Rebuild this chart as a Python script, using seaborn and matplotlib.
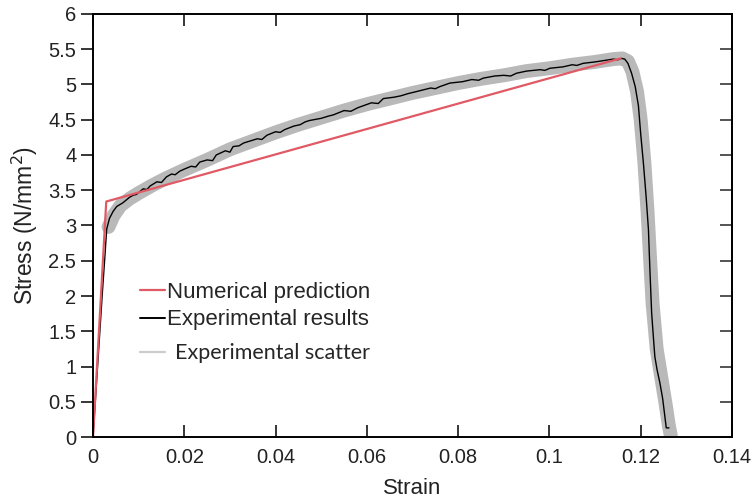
import matplotlib
matplotlib.use("Agg")
import matplotlib.pyplot as plt
from matplotlib.lines import Line2D
import seaborn as sns
import pandas as pd

# Numerical prediction: bilinear model (elastic branch + hardening branch)
num_strain = [0.0, 0.0029, 0.1156]
num_stress = [0.0, 3.34, 5.37]

# Experimental stress-strain record
exp_strain = [0.0, 0.0010, 0.0020, 0.0026, 0.0030, 0.0036, 0.0044, 0.0052, 0.0065,
              0.0080, 0.0088, 0.0095, 0.0110, 0.0118, 0.0125, 0.0140, 0.0150, 0.0161,
              0.0172, 0.0180, 0.0190, 0.0200, 0.0215, 0.0225, 0.0234, 0.0250, 0.0262,
              0.0270, 0.0290, 0.0300, 0.0307, 0.0320, 0.0330, 0.0340, 0.0360, 0.0370,
              0.0381, 0.0400, 0.0410, 0.0420, 0.0440, 0.0454, 0.0465, 0.0475, 0.0500,
              0.0515, 0.0527, 0.0550, 0.0565, 0.0580, 0.0610, 0.0625, 0.0636, 0.0660,
              0.0675, 0.0690, 0.0709, 0.0740, 0.0750, 0.0760, 0.0782, 0.0810, 0.0830,
              0.0845, 0.0855, 0.0880, 0.0900, 0.0915, 0.0928, 0.0950, 0.0980, 0.0990,
              0.1001, 0.1030, 0.1050, 0.1060, 0.1074, 0.1100, 0.1120, 0.1140, 0.1150,
              0.1158, 0.1165, 0.1172, 0.1180, 0.1188, 0.1195, 0.1200, 0.1206, 0.1212,
              0.1217, 0.1220, 0.1224, 0.1228, 0.1231, 0.1236, 0.1242, 0.1248, 0.1253,
              0.1256, 0.1262]
exp_stress = [0.0, 1.00, 2.00, 2.56, 2.95, 3.10, 3.20, 3.27, 3.32,
              3.40, 3.43, 3.44, 3.52, 3.51, 3.56, 3.62, 3.61, 3.69,
              3.73, 3.72, 3.77, 3.80, 3.84, 3.83, 3.90, 3.93, 3.92,
              4.00, 4.06, 4.04, 4.12, 4.13, 4.17, 4.19, 4.23, 4.22,
              4.28, 4.33, 4.32, 4.36, 4.41, 4.43, 4.47, 4.49, 4.52,
              4.55, 4.57, 4.63, 4.62, 4.67, 4.74, 4.73, 4.80, 4.82,
              4.84, 4.87, 4.90, 4.95, 4.94, 4.97, 5.02, 5.04, 5.07,
              5.06, 5.09, 5.12, 5.13, 5.12, 5.16, 5.19, 5.21, 5.20,
              5.23, 5.25, 5.28, 5.27, 5.30, 5.32, 5.34, 5.36, 5.35,
              5.37, 5.36, 5.30, 5.16, 4.97, 4.70, 4.30, 3.88, 3.40,
              2.94, 2.40, 1.76, 1.40, 1.14, 0.95, 0.77, 0.55, 0.29,
              0.13, 0.13]

# Envelope of the repeated tests
sc_strain = [0.0034, 0.0045, 0.0060, 0.0080, 0.0100, 0.0130, 0.0160, 0.0200, 0.0250,
             0.0300, 0.0350, 0.0400, 0.0450, 0.0500, 0.0550, 0.0600, 0.0650, 0.0700,
             0.0750, 0.0800, 0.0850, 0.0900, 0.0950, 0.1000, 0.1050, 0.1100, 0.1140,
             0.1160, 0.1172, 0.1182, 0.1192, 0.1200, 0.1208, 0.1215, 0.1220, 0.1226,
             0.1235, 0.1245, 0.1255, 0.1262, 0.1266]
sc_stress = [2.98, 3.14, 3.28, 3.38, 3.46, 3.57, 3.67, 3.79, 3.93,
             4.08, 4.20, 4.32, 4.43, 4.53, 4.63, 4.72, 4.80, 4.88,
             4.95, 5.02, 5.08, 5.13, 5.19, 5.23, 5.28, 5.32, 5.36,
             5.37, 5.33, 5.18, 4.90, 4.50, 3.90, 3.20, 2.60, 1.90,
             1.25, 0.85, 0.45, 0.15, 0.02]

x_ticks = [0, 0.02, 0.04, 0.06, 0.08, 0.1, 0.12, 0.14]
x_tick_labels = ["0", "0.02", "0.04", "0.06", "0.08", "0.1", "0.12", "0.14"]
y_ticks = [0, 0.5, 1, 1.5, 2, 2.5, 3, 3.5, 4, 4.5, 5, 5.5, 6]
y_tick_labels = ["0", "0.5", "1", "1.5", "2", "2.5", "3", "3.5", "4", "4.5", "5", "5.5", "6"]

legend_labels = ["Numerical prediction", "Experimental results", "Experimental scatter"]

RED = "#e05a66"
GRAY = "#b9b9b9"

sns.set_style("ticks")
plt.rcParams["font.family"] = ["Liberation Sans", "DejaVu Sans"]

fig = plt.figure(figsize=(7.55, 4.99), dpi=100)
ax = fig.add_axes([0.1232, 0.1242, 0.8463, 0.8478])

df_sc = pd.DataFrame({"strain": sc_strain, "stress": sc_stress})
df_exp = pd.DataFrame({"strain": exp_strain, "stress": exp_stress})
df_num = pd.DataFrame({"strain": num_strain, "stress": num_stress})

sns.lineplot(data=df_sc, x="strain", y="stress", sort=False, estimator=None,
             color=GRAY, lw=10, solid_capstyle="round", solid_joinstyle="round", ax=ax)
sns.lineplot(data=df_exp, x="strain", y="stress", sort=False, estimator=None,
             color="black", lw=1.0, ax=ax)
sns.lineplot(data=df_num, x="strain", y="stress", sort=False, estimator=None,
             color=RED, lw=1.6, ax=ax)

ax.set_xlim(0, 0.14)
ax.set_ylim(0, 6)
ax.set_xticks(x_ticks)
ax.set_xticklabels(x_tick_labels)
ax.set_yticks(y_ticks)
ax.set_yticklabels(y_tick_labels)

for s in ax.spines.values():
    s.set_visible(True)
    s.set_linewidth(1.4)
    s.set_color("black")

ax.tick_params(axis="x", which="major", direction="in", top=True, bottom=True,
               length=8.5, width=1.1, labelsize=14.5, pad=8, colors="black",
               labelcolor="#222222")
ax.tick_params(axis="y", which="major", direction="out", left=True, right=False,
               length=9, width=1.1, labelsize=14.5, pad=3, colors="black",
               labelcolor="#222222")
# Inward ticks on the right spine
ax_r = ax.secondary_yaxis("right")
ax_r.set_yticks(y_ticks)
ax_r.tick_params(direction="in", length=8.5, width=1.1, labelright=False)
ax_r.spines["right"].set_linewidth(1.4)

ax.set_xlabel("Strain", fontsize=16, color="#222222", labelpad=8)
ax.set_ylabel("Stress (N/mm$^2$)", fontsize=16.5, color="#222222", labelpad=6)

# Model and mean-test entries
main_handles = [Line2D([], [], color=RED, lw=1.6),
                Line2D([], [], color="black", lw=1.4)]
leg1 = ax.legend(main_handles, legend_labels[:2], loc="upper left",
                 bbox_to_anchor=(0.074, 0.366), frameon=False, fontsize=16,
                 handlelength=1.1, handletextpad=0.08, labelspacing=0.28,
                 borderaxespad=0, borderpad=0)
ax.add_artist(leg1)

# Scatter envelope entry
sc_handle = [Line2D([], [], color="#cccccc", lw=1.6)]
leg2 = ax.legend(sc_handle, legend_labels[2:], loc="upper left",
                 bbox_to_anchor=(0.074, 0.222), frameon=False,
                 prop={"family": ["Lato", "DejaVu Sans"], "size": 15.5},
                 handlelength=1.15, handletextpad=0.45,
                 borderaxespad=0, borderpad=0)

fig.savefig("out.png", dpi=100)
